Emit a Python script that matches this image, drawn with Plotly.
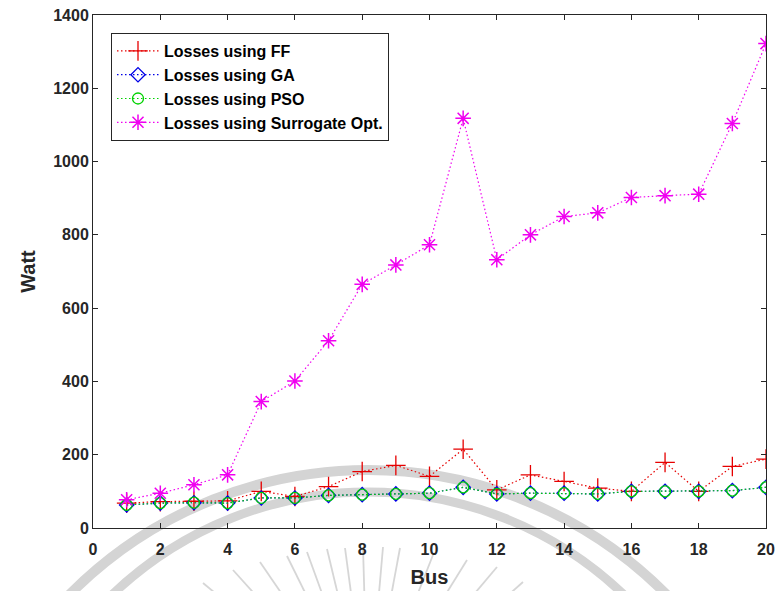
import math
import plotly.graph_objects as go

bus = list(range(1, 21))
loss_ff = [68, 72, 73, 74, 100, 86, 113, 154, 171, 141, 215, 104, 145, 127, 109, 100, 179, 100, 168, 188]
loss_ga = [63, 68, 69, 68, 82, 82, 89, 91, 93, 95, 111, 93, 95, 95, 93, 100, 100, 100, 102, 111]
loss_pso = [63, 68, 69, 68, 82, 82, 89, 91, 93, 95, 111, 93, 95, 95, 93, 100, 100, 100, 102, 111]
loss_sur = [77, 95, 118, 145, 345, 401, 511, 665, 718, 773, 1118, 732, 800, 850, 860, 902, 907, 911, 1104, 1322]

x_ticks = list(range(0, 21, 2))
y_ticks = list(range(0, 1401, 200))

FONT = "Liberation Sans, Arial, sans-serif"
TXT = "#262626"
DOT = "1.5px,2.5px"

fig = go.Figure()

def add(name, y, color, symbol, size, lw):
    fig.add_trace(go.Scatter(
        x=bus, y=y, name=name, mode="lines+markers",
        line=dict(color=color, width=1.2, dash=DOT),
        marker=dict(symbol=symbol, size=size, color=color,
                    line=dict(color=color, width=lw)),
    ))

add("Losses using FF", loss_ff, "rgb(230,0,0)", "cross-thin", 14, 1.3)
add("Losses using GA", loss_ga, "rgb(0,0,230)", "diamond-open", 11, 1.3)
add("Losses using PSO", loss_pso, "rgb(0,210,0)", "circle-open", 11, 1.3)
add("Losses using Surrogate Opt.", loss_sur, "rgb(240,0,240)", "asterisk-open", 13, 1.5)

# plot-area pixel geometry (used for the faint background watermark only)
L, R, T, B = 93, 766, 15, 528
def px(x): return (x - L) / (R - L)
def py(y): return (B - y) / (B - T)

shapes = []
wm = "rgb(212,212,212)"
for cx, cy, r, w in [(368, 890, 420, 10), (368, 862, 370, 9)]:
    shapes.append(dict(type="circle", xref="paper", yref="paper",
                       x0=px(cx - r), x1=px(cx + r), y0=py(cy + r), y1=py(cy - r),
                       line=dict(color=wm, width=w), layer="below"))
fan_c = (368, 720)
fan_tops = [(203, 583), (233, 570), (260, 562), (287, 556), (307, 552), (327, 549),
            (345, 548), (363, 547), (383, 547), (400, 548), (433, 555), (467, 560),
            (497, 567), (523, 582)]
for tx, ty in fan_tops:
    dx, dy = fan_c[0] - tx, fan_c[1] - ty
    t = (600 - ty) / dy
    shapes.append(dict(type="line", xref="paper", yref="paper",
                       x0=px(tx), y0=py(ty), x1=px(tx + dx * t), y1=py(600),
                       line=dict(color="rgb(214,214,214)", width=1.8), layer="below"))

axis_common = dict(showline=True, linecolor=TXT, linewidth=1, mirror="ticks",
                   ticks="inside", ticklen=5, tickcolor=TXT, showgrid=False,
                   zeroline=False, automargin=False,
                   tickfont=dict(family=FONT, size=16, color=TXT, weight="bold"))

fig.update_layout(
    width=776, height=591,
    margin=dict(l=L, r=776 - R, t=T, b=591 - B),
    paper_bgcolor="white", plot_bgcolor="white",
    font=dict(family=FONT, color=TXT),
    showlegend=True,
    legend=dict(x=px(111), y=py(33), xanchor="left", yanchor="top",
                bgcolor="white", bordercolor="#262626", borderwidth=1,
                font=dict(family=FONT, size=16, color="black", weight="bold"),
                itemwidth=42, tracegroupgap=0),
    xaxis=dict(range=[0, 20], tickvals=x_ticks, ticktext=[str(v) for v in x_ticks],
               ticklabelstandoff=7,
               title=dict(text="<b>Bus</b>", font=dict(family=FONT, size=20, color=TXT), standoff=12),
               **axis_common),
    yaxis=dict(range=[0, 1400], tickvals=y_ticks, ticktext=[str(v) for v in y_ticks],
               title=dict(text="<b>Watt</b>", font=dict(family=FONT, size=20, color=TXT), standoff=12),
               **axis_common),
    shapes=shapes,
)

fig.write_html("out.html")
